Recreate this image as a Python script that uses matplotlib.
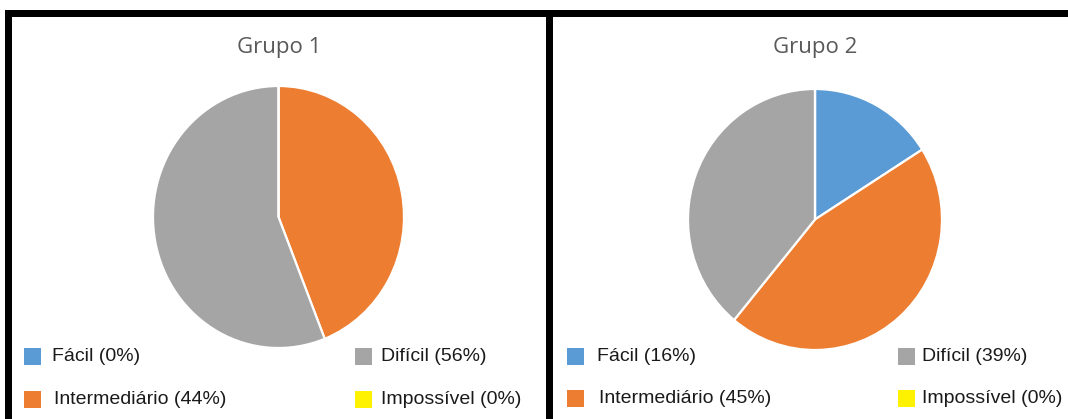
import matplotlib
matplotlib.use("Agg")
import matplotlib.pyplot as plt
import matplotlib.patches as mpatches

W, H = 1068, 419

# ── Data ──────────────────────────────────────────────────────────────────────
categories = ["Fácil", "Intermediário", "Difícil", "Impossível"]
grupo1 = [0, 44, 56, 0]
grupo2 = [16, 45, 39, 0]
titles = ["Grupo 1", "Grupo 2"]

COLORS = ["#5B9BD5", "#ED7D31", "#A5A5A5", "#FFF200"]
TITLE_C = "#595959"

fig = plt.figure(figsize=(W / 100, H / 100), dpi=100)
fig.patch.set_facecolor("white")

# pixel-coordinate overlay for frame, titles and legends
bg = fig.add_axes([0, 0, 1, 1])
bg.set_xlim(0, W)
bg.set_ylim(H, 0)
bg.axis("off")


def px_axes(cx, cy, rx, ry):
    return fig.add_axes([(cx - rx) / W, (H - (cy + ry)) / H, 2 * rx / W, 2 * ry / H])


def draw_pie(cx, cy, rx, ry, values):
    ax = px_axes(cx, cy, rx, ry)
    ax.pie(values, colors=COLORS, startangle=90, counterclock=False,
           wedgeprops=dict(edgecolor="white", linewidth=1.6))
    ax.set_aspect("auto")
    ax.set_xlim(-1, 1)
    ax.set_ylim(-1, 1)
    ax.axis("off")


def draw_legend(values, x_left, x_right, tx_left, tx_right, rows_y):
    slots = [(x_left, tx_left, rows_y[0]), (x_left, tx_left + 2, rows_y[1]),
             (x_right, tx_right, rows_y[0]), (x_right, tx_right, rows_y[1])]
    for (mx, tx, y), cat, val, col in zip(slots, categories, values, COLORS):
        bg.add_patch(mpatches.Rectangle((mx, y - 8.5), 17, 17, facecolor=col,
                                        edgecolor="none"))
        bg.text(tx, y, f"{cat} ({val}%)", ha="left", va="center", fontsize=14,
                family="Liberation Sans", color="#1a1a1a")


# ── Frame ─────────────────────────────────────────────────────────────────────
bg.add_patch(mpatches.Rectangle((5, 10), W - 5, 7, facecolor="black"))
bg.add_patch(mpatches.Rectangle((5, 10), 7, H - 10, facecolor="black"))
bg.add_patch(mpatches.Rectangle((546, 10), 7, H - 10, facecolor="black"))

# ── Panels ────────────────────────────────────────────────────────────────────
draw_pie(278.5, 217, 125.5, 131, grupo1)
draw_pie(815, 219.5, 127, 130.5, grupo2)

bg.text(279, 47, titles[0], ha="center", va="center", fontsize=16,
        family="Open Sans", color=TITLE_C)
bg.text(815, 48, titles[1], ha="center", va="center", fontsize=16,
        family="Open Sans", color=TITLE_C)

draw_legend(grupo1, 24, 355, 52, 381, (356, 399))
draw_legend(grupo2, 567, 898, 597, 922, (356, 398))

fig.savefig("out.png", dpi=100, facecolor="white")
